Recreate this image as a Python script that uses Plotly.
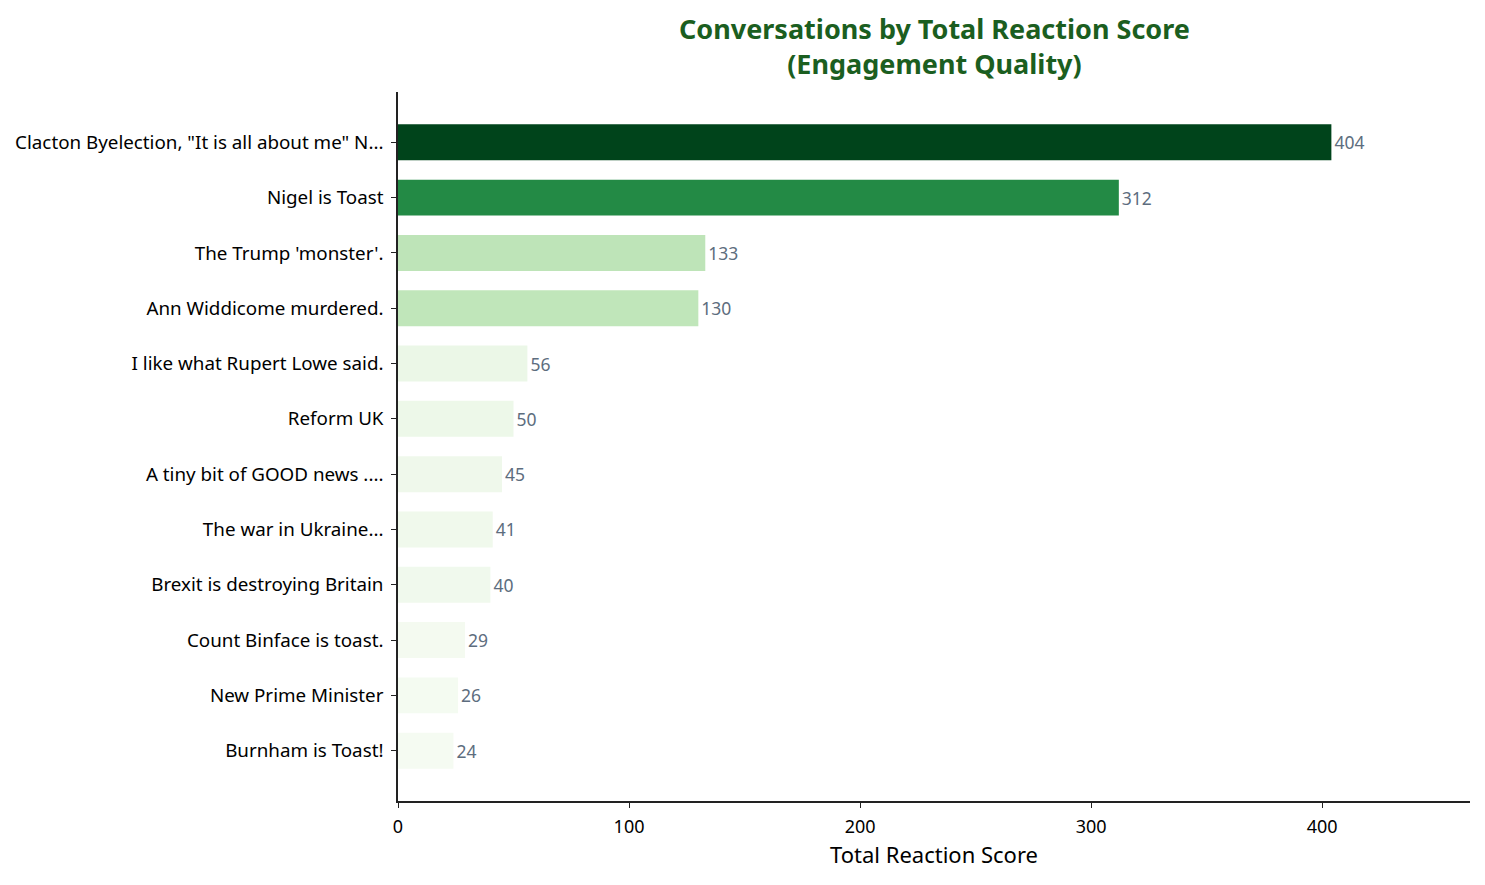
"""
Horizontal bar chart: conversations ranked by total reaction score.
"""

import plotly.graph_objects as go

# Data (top to bottom as shown)
conversations = [
    'Clacton Byelection, "It is all about me" N...',
    'Nigel is Toast',
    "The Trump 'monster'.",
    'Ann Widdicome murdered.',
    'I like what Rupert Lowe said.',
    'Reform UK',
    'A tiny bit of GOOD news ....',
    'The war in Ukraine...',
    'Brexit is destroying Britain',
    'Count Binface is toast.',
    'New Prime Minister',
    'Burnham is Toast!',
]
reaction_scores = [404, 312, 133, 130, 56, 50, 45, 41, 40, 29, 26, 24]
title_lines = ['Conversations by Total Reaction Score', '(Engagement Quality)']

# Greens-like scale, mapped on the score
GREENS = [
    [0.0, '#f7fcf5'],
    [0.06, '#f5fbf2'],
    [0.14, '#ebf7e7'],
    [0.32, '#c1e6ba'],
    [0.77, '#238b45'],
    [1.0, '#00441b'],
]

FONT = 'Noto Sans, DejaVu Sans, sans-serif'
n = len(conversations)

fig = go.Figure(
    go.Bar(
        x=reaction_scores,
        y=conversations,
        orientation='h',
        width=0.65,
        marker=dict(color=reaction_scores, colorscale=GREENS,
                    cmin=0, cmax=max(reaction_scores), line_width=0),
        text=reaction_scores,
        textposition='outside',
        outsidetextfont=dict(color='#5d6d7e', size=17.5, family=FONT),
        cliponaxis=False,
        showlegend=False,
    )
)

# the page body adds 8px around the figure, so the figure is a bit smaller
fig.update_layout(
    width=1477,
    height=877,
    margin=dict(l=390, r=15, t=84, b=84, autoexpand=False),
    paper_bgcolor='white',
    plot_bgcolor='white',
    font=dict(family=FONT, color='black'),
    xaxis=dict(
        range=[0, 464],
        tickvals=[0, 100, 200, 300, 400],
        showgrid=False, zeroline=False,
        showline=True, linecolor='#222', linewidth=1.5,
        ticks='outside', ticklen=5, tickcolor='#222',
        tickfont=dict(size=18),
        ticklabelstandoff=4,
        automargin=False,
        title=dict(text='Total Reaction Score', font=dict(size=22), standoff=10),
    ),
    yaxis=dict(
        range=[n - 1 + 0.91, -0.91],
        showgrid=False, zeroline=False,
        showline=True, linecolor='#222', linewidth=1.5,
        ticks='outside', ticklen=5, tickcolor='#222',
        tickfont=dict(size=18.8),
        ticklabelstandoff=4,
        automargin=False,
    ),
)

# bold two-line title over the plot area
fig.add_annotation(
    text='<b>' + '<br>'.join(title_lines) + '</b>',
    xref='paper', yref='paper', x=0.5, y=1,
    xanchor='center', yanchor='middle', yshift=46,
    showarrow=False,
    font=dict(size=27, color='#1b5e20', family=FONT),
)

fig.write_html("out.html")
